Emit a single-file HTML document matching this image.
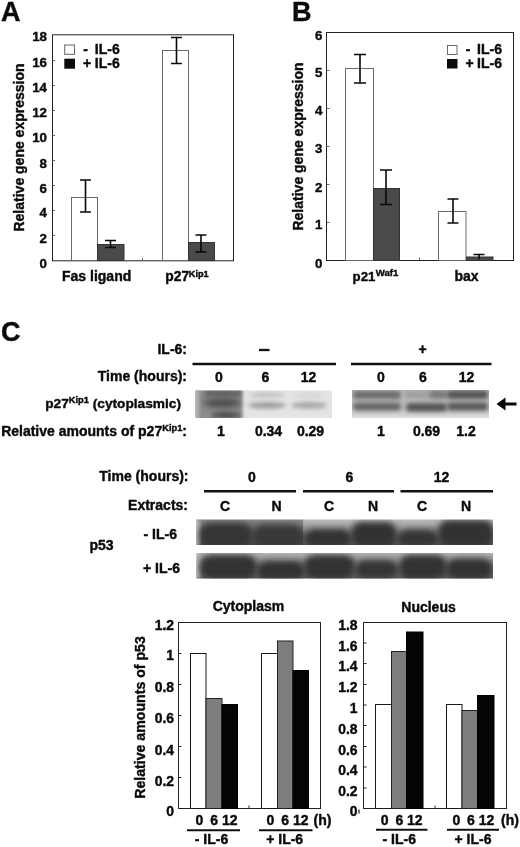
<!DOCTYPE html>
<html><head><meta charset="utf-8"><title>Figure</title>
<style>
html,body{margin:0;padding:0;background:#fff;}
svg{display:block;}
text{font-family:"Liberation Sans",Arial,Helvetica,sans-serif;font-weight:bold;fill:#0a0a0a;stroke:#0a0a0a;stroke-width:0.4px;stroke-linejoin:round;}
.pl{font-size:27px;}
.t{font-size:14px;}
.tk{font-size:13.3px;text-anchor:end;}
.m{text-anchor:middle;}
.e{text-anchor:end;}
.sup{font-size:9.3px;}
.ax{stroke:#222;stroke-width:1;fill:none;}
.tm{stroke:#666;stroke-width:1;fill:none;}
.eb{stroke:#080808;stroke-width:1.6;fill:none;}
.wb{fill:#fff;stroke:#6a6a6a;stroke-width:1;}
.wb2{fill:#fff;stroke:#1a1a1a;stroke-width:1;}
.db{fill:#4a4a4a;stroke:#333;stroke-width:1;}
.gb{fill:#7d7d7d;stroke:#222;stroke-width:1;}
.bb{fill:#050505;stroke:#000;stroke-width:1;}
.ln{stroke:#111;stroke-width:2;}
</style></head><body>
<svg width="520" height="847" viewBox="0 0 520 847">
<defs>
<filter id="b2" x="-20%" y="-50%" width="140%" height="200%"><feGaussianBlur stdDeviation="2"/></filter>
<filter id="b3" x="-20%" y="-50%" width="140%" height="200%"><feGaussianBlur stdDeviation="3"/></filter>
<filter id="b15" x="-20%" y="-50%" width="140%" height="200%"><feGaussianBlur stdDeviation="1.5"/></filter>
<clipPath id="c1"><rect x="195.5" y="390.5" width="136.5" height="27.5"/></clipPath>
<clipPath id="c2"><rect x="352" y="390" width="137" height="28"/></clipPath>
<clipPath id="c3"><rect x="196.5" y="519.5" width="296.5" height="25.5"/></clipPath>
<clipPath id="c4"><rect x="196.5" y="553" width="296.5" height="25.5"/></clipPath>
<filter id="b35" x="-20%" y="-50%" width="140%" height="200%"><feGaussianBlur stdDeviation="3.2"/></filter>
<filter id="b25" x="-20%" y="-50%" width="140%" height="200%"><feGaussianBlur stdDeviation="2.5"/></filter>
<linearGradient id="g1" x1="0" y1="0" x2="0" y2="1"><stop offset="0" stop-color="#8a8a8a"/><stop offset="0.5" stop-color="#5a5a5a"/><stop offset="1" stop-color="#484848"/></linearGradient>
<linearGradient id="g2" x1="0" y1="0" x2="0" y2="1"><stop offset="0" stop-color="#bdbdbd"/><stop offset="0.5" stop-color="#8c8c8c"/><stop offset="1" stop-color="#5c5c5c"/></linearGradient>
<linearGradient id="g3" x1="0" y1="0" x2="0" y2="1"><stop offset="0" stop-color="#b8b8b8"/><stop offset="0.5" stop-color="#7c7c7c"/><stop offset="1" stop-color="#5a5a5a"/></linearGradient>
<linearGradient id="g4" x1="0" y1="0" x2="0" y2="1"><stop offset="0" stop-color="#b4b4b4"/><stop offset="0.7" stop-color="#c2c2c2"/><stop offset="1" stop-color="#e2e2e2"/></linearGradient>
</defs>
<rect width="520" height="847" fill="#fff"/>

<!-- ================= Panel A ================= -->
<g id="panelA">
<text class="pl" x="1" y="21">A</text>
<rect class="ax" x="52.500" y="34.800" width="181" height="226"/>
<g class="tm">
<path d="M52.5 60.5h2.500M52.5 85.5h2.500M52.5 110.5h2.500M52.5 135.5h2.500M52.5 160.5h2.500M52.5 185.5h2.500M52.5 210.5h2.500M52.5 235.5h2.500M142.5 260.5v-2.500"/>
</g>
<g class="tk">
<text x="47" y="41.300">18</text><text x="47" y="67">16</text><text x="47" y="91.500">14</text><text x="47" y="117">12</text><text x="47" y="142">10</text>
<text x="47" y="167.500">8</text><text x="47" y="192.500">6</text><text x="47" y="217">4</text><text x="47" y="243">2</text><text x="47" y="268">0</text>
</g>
<text class="t m" transform="translate(23.500,147.500) rotate(-90)">Relative gene expression</text>
<rect class="wb" x="64.700" y="45" width="9.800" height="9.300" style="stroke:#666"/>
<rect x="64.300" y="58.700" width="10.700" height="10" fill="#0a0a0a"/>
<text class="t" x="83.300" y="54">-</text><text class="t" x="94.800" y="54">IL-6</text>
<text class="t" x="83" y="67.500">+</text><text class="t" x="94.800" y="67.500">IL-6</text>
<rect class="wb" x="71.5" y="197.5" width="26" height="63"/>
<rect class="db" x="97.5" y="244.5" width="26.5" height="16"/>
<rect class="wb" x="162.5" y="50.5" width="26" height="210"/>
<rect class="db" x="188.5" y="242.5" width="26" height="18"/>
<path class="eb" d="M85.5 180v32M80 180h11M80 212h11"/>
<path class="eb" d="M110.5 240.5v7M105 240.5h11M105 247.5h11"/>
<path class="eb" d="M176.5 37.5v26M171 37.5h11M171 63.5h11"/>
<path class="eb" d="M201 235v17M195.5 235h11M195.500 252h11"/>
<text class="t" x="62" y="280.500">Fas ligand</text>
<text class="t" x="165.300" y="280.700" style="font-size:13.8px">p27<tspan class="sup" dy="-3.800" dx="-0.3" style="font-size:9.2px">Kip1</tspan></text>
</g>

<!-- ================= Panel B ================= -->
<g id="panelB">
<text class="pl" x="292" y="21">B</text>
<rect class="ax" x="326.500" y="32.500" width="187" height="228"/>
<g class="tm">
<path d="M326.500 70.500h3M326.500 108.500h3M326.500 146.500h3M326.500 184.500h3M326.500 222.500h3M419.500 260.500v-3"/>
</g>
<g class="tk">
<text x="322.300" y="39.900">6</text><text x="322.300" y="77.300">5</text><text x="322.300" y="115.300">4</text><text x="322.300" y="153.300">3</text><text x="322.300" y="191.600">2</text><text x="322.300" y="229.300">1</text><text x="322.300" y="268">0</text>
</g>
<text class="t m" transform="translate(303.400,146.500) rotate(-90)">Relative gene expression</text>
<rect class="wb" x="447.500" y="45.500" width="9.500" height="9"/>
<rect x="447" y="59" width="10.500" height="9.500" fill="#0a0a0a"/>
<text class="t" x="465.800" y="54">-</text><text class="t" x="477.100" y="54">IL-6</text>
<text class="t" x="465.500" y="67.500">+</text><text class="t" x="477.100" y="67.500">IL-6</text>
<rect class="wb" x="345.500" y="68.500" width="28" height="192"/>
<rect class="db" x="373.500" y="188.500" width="26" height="72"/>
<rect class="wb" x="438.500" y="211.500" width="27.500" height="49"/>
<rect class="db" x="466.500" y="257" width="26.500" height="3.500"/>
<path class="eb" d="M360 54.500v28.500M354 54.500h12M354 83h12"/>
<path class="eb" d="M386 170v34.500M380 170h12M380 204.500h12"/>
<path class="eb" d="M453 199v24M447.500 199h11M447.500 223h11"/>
<path class="eb" d="M479 254.500v5M473.500 254.500h11"/>
<text class="t" x="352.600" y="281" style="font-size:13.2px">p21<tspan class="sup" dy="-4.800" dx="0.5" style="font-size:9.6px">Waf1</tspan></text>
<text class="t" x="454.500" y="281">bax</text>
</g>

<!-- ================= Panel C ================= -->
<g id="panelC">
<text class="pl" x="1" y="340.500">C</text>
<text class="t e" x="187" y="354">IL-6:</text>
<text class="t e" x="187" y="381">Time (hours):</text>
<text class="t e" x="181" y="407.500" style="font-size:13.7px">p27<tspan class="sup" dy="-4.200">Kip1</tspan><tspan dy="4.200"> (cytoplasmic)</tspan></text>
<text class="t e" x="187" y="435.500">Relative amounts of p27<tspan class="sup" dy="-4.200">Kip1</tspan><tspan dy="4.200">:</tspan></text>
<path class="ln" d="M192.500 364h143.500M351 364h140.500" style="stroke-width:2.4"/>
<path class="ln" d="M259 350h10.500" style="stroke-width:2.3"/>
<text class="t m" x="422.500" y="354">+</text>
<text class="t m" x="219" y="382">0</text><text class="t m" x="265.500" y="382">6</text><text class="t m" x="308.500" y="382">12</text>
<text class="t m" x="381" y="382">0</text><text class="t m" x="423" y="382">6</text><text class="t m" x="466.500" y="382">12</text>
<text class="t m" x="221" y="436">1</text><text class="t m" x="268.500" y="436">0.34</text><text class="t m" x="310.500" y="436">0.29</text>
<text class="t m" x="381" y="436">1</text><text class="t m" x="426.500" y="436">0.69</text><text class="t m" x="466" y="436">1.2</text>

<!-- blot p27 minus -->
<g clip-path="url(#c1)">
<rect x="195" y="390" width="138" height="29" fill="#e4e4e4"/>
<rect x="192" y="387" width="50.500" height="34" fill="#8c8c8c" filter="url(#b15)"/>
<rect x="191" y="388" width="8" height="32" fill="#b8b8b8" filter="url(#b2)"/>
<rect x="205" y="391" width="36" height="5" rx="2" fill="#5a5a5a" filter="url(#b2)"/>
<ellipse cx="222" cy="403" rx="19" ry="5" fill="#4c4c4c" filter="url(#b3)"/>
<ellipse cx="226" cy="415" rx="15" ry="3" fill="#484848" filter="url(#b2)"/>
<ellipse cx="267" cy="405.300" rx="19" ry="3.300" fill="#9c9c9c" filter="url(#b2)"/>
<ellipse cx="267" cy="395" rx="18" ry="2.800" fill="#c2c2c2" filter="url(#b2)"/>
<ellipse cx="309" cy="405.300" rx="18" ry="3.300" fill="#a6a6a6" filter="url(#b2)"/>
<ellipse cx="309" cy="395" rx="16" ry="2.500" fill="#d4d4d4" filter="url(#b2)"/>
</g>
<!-- blot p27 plus -->
<g clip-path="url(#c2)">
<rect x="351" y="389" width="139" height="30" fill="url(#g4)"/>
<rect x="353" y="391" width="48" height="8" rx="4" fill="#6c6c6c" filter="url(#b2)"/>
<rect x="353" y="402.500" width="48" height="8" rx="4" fill="#666" filter="url(#b2)"/>
<rect x="405" y="391.500" width="42" height="6.500" rx="3" fill="#9c9c9c" filter="url(#b2)"/>
<rect x="430" y="391" width="17" height="7" rx="3" fill="#777" filter="url(#b2)"/>
<rect x="406" y="403" width="41" height="8.500" rx="4" fill="#555" filter="url(#b2)"/>
<rect x="447" y="390.500" width="41" height="8.500" rx="4" fill="#555" filter="url(#b2)"/>
<rect x="447" y="402.500" width="41" height="8" rx="4" fill="#585858" filter="url(#b2)"/>
</g>
<!-- arrow -->
<path d="M496.500 404l9 -6.500v5h11v3h-11v5z" fill="#0a0a0a"/>

<!-- p53 section -->
<text class="t e" x="188.500" y="480.800">Time (hours):</text>
<text class="t e" x="188" y="509.700">Extracts:</text>
<text class="t" x="143.500" y="538.900">- IL-6</text>
<text class="t" x="143" y="572.900">+ IL-6</text>
<text class="t" x="89.400" y="549.900">p53</text>
<path class="ln" d="M204 491.200h92M303 491.200h91M400.500 491.200h92.500" style="stroke-width:2.4"/>
<text class="t m" x="252" y="482">0</text><text class="t m" x="349.500" y="482">6</text><text class="t m" x="441.500" y="482">12</text>
<text class="t m" x="225" y="510.500">C</text><text class="t m" x="276.500" y="510.500">N</text><text class="t m" x="329" y="510.500">C</text><text class="t m" x="373" y="510.500">N</text><text class="t m" x="422" y="510.500">C</text><text class="t m" x="466" y="510.500">N</text>
<g clip-path="url(#c3)">
<rect x="196" y="519" width="107" height="27" fill="url(#g1)"/>
<rect x="303" y="519" width="191" height="27" fill="url(#g2)"/>
<rect x="194" y="519" width="6" height="27" fill="#bbb" filter="url(#b2)"/>
<rect x="200" y="523" width="52" height="25" rx="11" ry="11" fill="#343434" filter="url(#b35)"/>
<rect x="253" y="525" width="50" height="23" rx="11" ry="11" fill="#383838" filter="url(#b35)"/>
<rect x="304" y="529" width="48" height="19" rx="11" ry="8.5" fill="#303030" filter="url(#b35)"/>
<rect x="351" y="522" width="46" height="26" rx="11" ry="11" fill="#323232" filter="url(#b35)"/>
<rect x="397" y="529.500" width="42" height="18" rx="11" ry="8" fill="#343434" filter="url(#b35)"/>
<rect x="438" y="520" width="56" height="28" rx="11" ry="11" fill="#303030" filter="url(#b35)"/>
</g>
<g clip-path="url(#c4)">
<rect x="196" y="552" width="298" height="28" fill="url(#g3)"/>
<rect x="194" y="552" width="6" height="28" fill="#bbb" filter="url(#b2)"/>
<rect x="200" y="555" width="57" height="24" rx="11" ry="11" fill="#323232" filter="url(#b35)"/>
<rect x="257" y="561" width="48" height="19" rx="11" ry="8.5" fill="#323232" filter="url(#b35)"/>
<rect x="304" y="555" width="51" height="24" rx="11" ry="11" fill="#323232" filter="url(#b35)"/>
<rect x="355" y="560" width="43" height="19" rx="11" ry="8.5" fill="#343434" filter="url(#b35)"/>
<rect x="399" y="555" width="48" height="24" rx="11" ry="11" fill="#323232" filter="url(#b35)"/>
<rect x="446" y="558.500" width="47" height="21" rx="11" ry="10.0" fill="#323232" filter="url(#b35)"/>
</g>

<!-- Cytoplasm chart -->
<text class="t m" x="248.500" y="611">Cytoplasm</text>
<rect class="ax" x="178.500" y="622.500" width="142" height="186"/>
<path class="ax" d="M178.500 653.500h3M178.500 684.500h3M178.500 715.500h3M178.500 746.500h3M178.500 777.500h3M249 808.500v-3"/>
<g class="tk" style="font-size:13.9px">
<text x="174" y="629.700">1.2</text><text x="174" y="660.200">1</text><text x="174" y="691.700">0.8</text><text x="174" y="723.200">0.6</text><text x="174" y="754.700">0.4</text><text x="174" y="785.700">0.2</text><text x="174" y="816.400">0</text>
</g>
<text class="t m" transform="translate(144.500,717.500) rotate(-90)" style="font-size:14.15px">Relative amounts of p53</text>
<rect class="wb2" x="190.500" y="653.500" width="15.500" height="155"/>
<rect class="gb" x="206" y="698.500" width="16" height="110"/>
<rect class="bb" x="222" y="704.500" width="15.500" height="104"/>
<rect class="wb2" x="261.500" y="653.500" width="16" height="155"/>
<rect class="gb" x="277.500" y="641" width="15.500" height="167.500"/>
<rect class="bb" x="293" y="670.500" width="15.500" height="138"/>
<text class="t m" x="199.500" y="824.700">0</text><text class="t m" x="214.200" y="824.700">6</text><text class="t m" x="229.800" y="824.700">12</text>
<text class="t m" x="270.500" y="824.700">0</text><text class="t m" x="285.200" y="824.700">6</text><text class="t m" x="300.800" y="824.700">12</text>
<text class="t" x="313.500" y="824.700">(h)</text>
<path class="ln" d="M187 830.300h53M259 830.300h53.500" style="stroke-width:2"/>
<text class="t" x="194.800" y="843.700">- IL-6</text>
<text class="t" x="266.200" y="843.700">+ IL-6</text>

<!-- Nucleus chart -->
<text class="t m" x="428.500" y="611.500">Nucleus</text>
<rect class="ax" x="363.500" y="622.500" width="143" height="186"/>
<path class="ax" d="M363.500 643h3M363.500 663.500h3M363.500 684.500h3M363.500 705h3M363.500 725.500h3M363.500 746.500h3M363.500 767h3M363.500 788h3M435 808.500v-3"/>
<g class="tk" style="font-size:13.9px">
<text x="357.500" y="630">1.8</text><text x="357.500" y="650.700">1.6</text><text x="357.500" y="671.200">1.4</text><text x="357.500" y="692.200">1.2</text><text x="357.500" y="713.200">1</text><text x="357.500" y="733.700">0.8</text><text x="357.500" y="754.500">0.6</text><text x="357.500" y="775.200">0.4</text><text x="357.500" y="796">0.2</text><text x="357.500" y="816.200">0</text>
</g>
<path class="ax" d="M359 809.500v4" style="stroke-width:1.3"/>
<rect class="wb2" x="375.500" y="704.500" width="16" height="104"/>
<rect class="gb" x="391.500" y="651.500" width="15" height="157"/>
<rect class="bb" x="406.500" y="632" width="16.500" height="176.500"/>
<rect class="wb2" x="446.500" y="704.500" width="15.500" height="104"/>
<rect class="gb" x="462" y="710.500" width="15.500" height="98"/>
<rect class="bb" x="477.500" y="695.500" width="16.500" height="113"/>
<text class="t m" x="384.700" y="825">0</text><text class="t m" x="399.500" y="825">6</text><text class="t m" x="414.700" y="825">12</text>
<text class="t m" x="456.500" y="825">0</text><text class="t m" x="470.800" y="825">6</text><text class="t m" x="486.500" y="825">12</text>
<text class="t" x="501" y="825">(h)</text>
<path class="ln" d="M376 829.700h51.500M447 829.700h52" style="stroke-width:2"/>
<text class="t" x="382.500" y="843.500">- IL-6</text>
<text class="t" x="454.500" y="843.500">+ IL-6</text>
</g>
</svg>
</body></html>
